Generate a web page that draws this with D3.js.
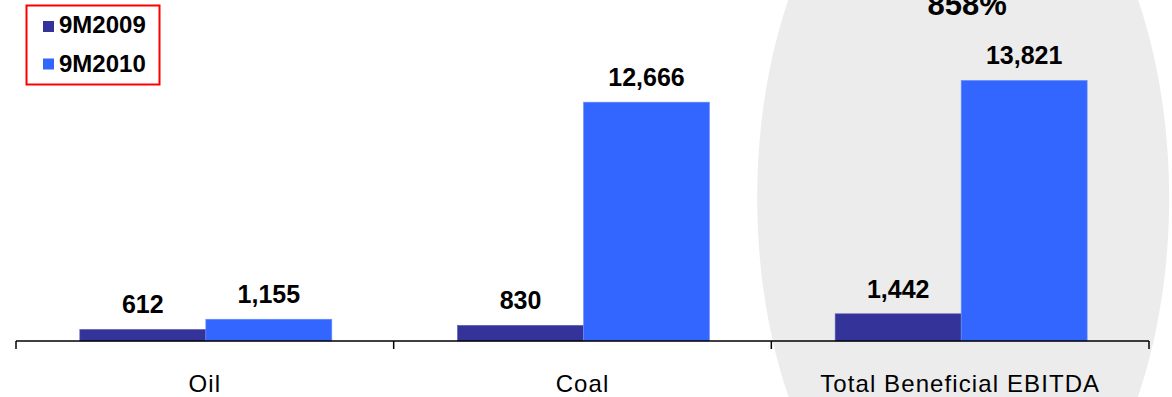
<!DOCTYPE html>
<html>
<head>
<meta charset="utf-8">
<script src="https://cdn.jsdelivr.net/npm/d3@7/dist/d3.min.js"></script>
<style>
  html, body { margin: 0; padding: 0; background: #fff; }
  svg { display: block; font-family: "Liberation Sans", Arial, sans-serif; }
</style>
</head>
<body>
<svg id="chart" width="1172" height="397"></svg>
<script>
const categories = ["Oil", "Coal", "Total Beneficial EBITDA"];
const seriesNames = ["9M2009", "9M2010"];
const values2009 = [612, 830, 1442];
const values2010 = [1155, 12666, 13821];
const growthLabel = "858%";
const colors = ["#333399", "#3366FF"];

const svg = d3.select("#chart");

const x = d3.scaleBand().domain(categories).range([16, 1149]).padding(0);
const inner = d3.scaleBand().domain(seriesNames)
  .range([(x.bandwidth() - 252) / 2 + 1, (x.bandwidth() + 252) / 2 + 1]).padding(0);
const y = d3.scaleLinear().domain([0, 14000]).range([341, 77]);

// highlight ellipse behind "Total"
const tx = x("Total Beneficial EBITDA") + x.bandwidth() / 2;
svg.append("ellipse")
  .attr("cx", tx + 3).attr("cy", 198)
  .attr("rx", 206).attr("ry", 375)
  .attr("fill", "#ececec");

const data = categories.map((c, i) => ({
  cat: c,
  vals: [
    { s: seriesNames[0], v: values2009[i] },
    { s: seriesNames[1], v: values2010[i] }
  ]
}));

const groups = svg.selectAll("g.grp").data(data).enter().append("g")
  .attr("class", "grp")
  .attr("transform", d => `translate(${x(d.cat)},0)`);

groups.selectAll("rect").data(d => d.vals).enter().append("rect")
  .attr("x", d => inner(d.s))
  .attr("width", inner.bandwidth())
  .attr("y", d => y(d.v))
  .attr("height", d => y(0) - y(d.v))
  .attr("fill", (d, i) => colors[i])
  .attr("stroke", (d, i) => i === 0 ? "#5a5ab0" : "#6e90ff")
  .attr("stroke-width", 0.6);

groups.selectAll("text.val").data(d => d.vals).enter().append("text")
  .attr("class", "val")
  .attr("x", d => inner(d.s) + inner.bandwidth() / 2)
  .attr("y", d => y(d.v) - 16)
  .attr("text-anchor", "middle")
  .attr("font-size", 25)
  .attr("font-weight", "bold")
  .attr("fill", "#000")
  .text(d => d3.format(",")(d.v));

// axis
const axis = d3.axisBottom(x).tickSize(0).tickSizeOuter(0);
const ag = svg.append("g").attr("transform", `translate(0,${y(0)})`).call(axis);
ag.select(".domain").remove();
ag.selectAll(".tick line").remove();
ag.selectAll(".tick text")
  .attr("y", 51).attr("dy", 0)
  .attr("font-size", 24)
  .attr("letter-spacing", "1.1px")
  .attr("font-family", "Liberation Sans, Arial, sans-serif")
  .attr("fill", "#000");

svg.append("line")
  .attr("x1", x.range()[0]).attr("x2", x.range()[1])
  .attr("y1", y(0)).attr("y2", y(0))
  .attr("stroke", "#000").attr("stroke-width", 1.5);

const boundaries = categories.map(c => x(c)).concat([x.range()[1]]);
svg.selectAll("line.tk").data(boundaries).enter().append("line")
  .attr("class", "tk")
  .attr("x1", d => d).attr("x2", d => d)
  .attr("y1", y(0)).attr("y2", y(0) + 8)
  .attr("stroke", "#000").attr("stroke-width", 1.5);

// growth label
svg.append("text")
  .attr("x", tx + 7).attr("y", 15)
  .attr("text-anchor", "middle")
  .attr("font-size", 31)
  .attr("font-weight", "bold")
  .attr("fill", "#000")
  .text(growthLabel);

// legend
const lg = svg.append("g");
lg.append("rect")
  .attr("x", 26.5).attr("y", 5.5).attr("width", 133).attr("height", 79)
  .attr("fill", "#fff").attr("stroke", "#ff0000").attr("stroke-width", 2);
seriesNames.forEach((s, i) => {
  lg.append("rect")
    .attr("x", 43).attr("y", 21 + i * 37.5)
    .attr("width", 11).attr("height", 11)
    .attr("fill", colors[i]);
  lg.append("text")
    .attr("x", 59).attr("y", 33 + i * 38.5)
    .attr("font-size", 24)
    .attr("font-weight", "bold")
    .attr("fill", "#000")
    .text(s);
});
</script>
</body>
</html>
